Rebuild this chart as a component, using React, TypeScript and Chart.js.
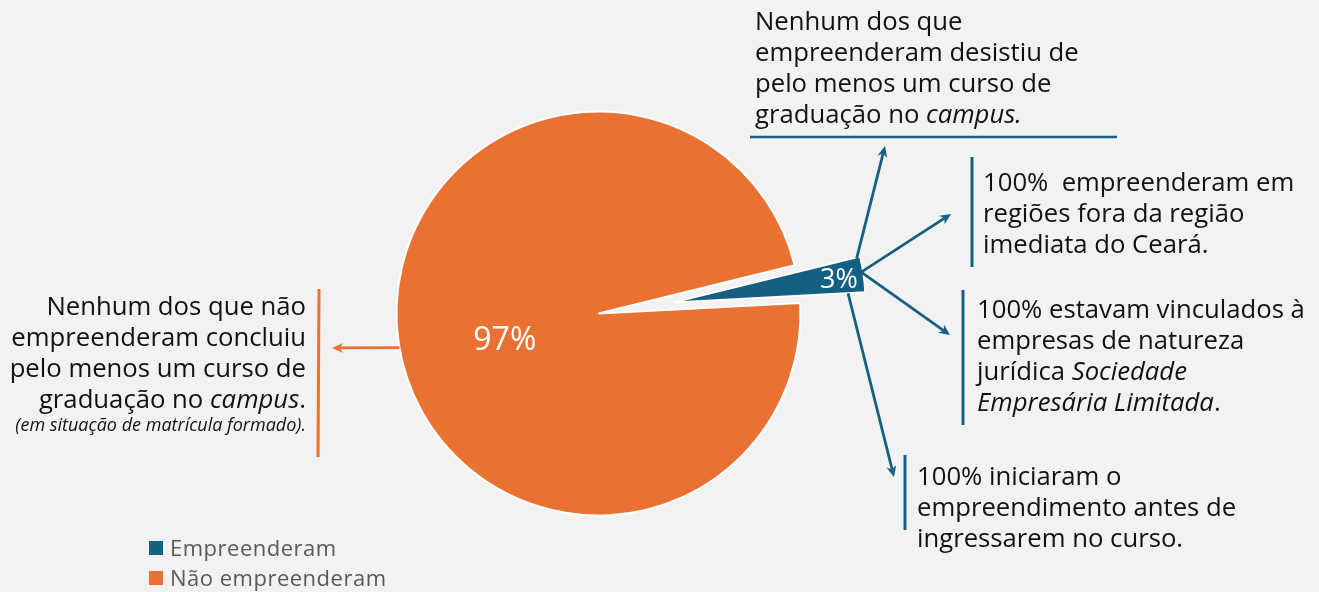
import React, { useEffect, useRef } from "react";
import { Chart, registerables } from "chart.js";

Chart.register(...registerables);

// ---------- data ----------
const categories = ["Empreenderam", "Não empreenderam"];
const values = [3, 97];
const valueLabels = ["3%", "97%"];
const colors = ["#156082", "#E97132"];

const topNote = ["Nenhum dos que", "empreenderam desistiu de", "pelo menos um curso de"];
const noteRegion = ["100%  empreenderam em", "regiões fora da região", "imediata do Ceará."];
const noteNature = ["100% estavam vinculados à", "empresas de natureza"];
const noteStart = ["100% iniciaram o", "empreendimento antes de", "ingressarem no curso."];
const leftNote = ["Nenhum dos que não", "empreenderam concluiu", "pelo menos um curso de"];

// ---------- styling constants ----------
const BG = "#f2f2f2";
const TEXT = "#111111";
const FONT = "'Open Sans', 'Noto Sans', sans-serif";
const EXPLODE = 76; // px the small slice is pulled out
const EXPLODED_SCALE = 0.95;

function drawArrow(ctx: CanvasRenderingContext2D, x1: number, y1: number, x2: number, y2: number, color: string) {
  const a = Math.atan2(y2 - y1, x2 - x1);
  const hl = 11;
  const hw = 5;
  ctx.save();
  ctx.strokeStyle = color;
  ctx.fillStyle = color;
  ctx.lineWidth = 2.8;
  ctx.lineCap = "butt";
  ctx.beginPath();
  ctx.moveTo(x1, y1);
  ctx.lineTo(x2 - Math.cos(a) * hl * 0.7, y2 - Math.sin(a) * hl * 0.7);
  ctx.stroke();
  ctx.beginPath();
  ctx.moveTo(x2, y2);
  ctx.lineTo(x2 - hl * Math.cos(a) + hw * Math.sin(a), y2 - hl * Math.sin(a) - hw * Math.cos(a));
  ctx.lineTo(x2 - hl * 0.7 * Math.cos(a), y2 - hl * 0.7 * Math.sin(a));
  ctx.lineTo(x2 - hl * Math.cos(a) - hw * Math.sin(a), y2 - hl * Math.sin(a) + hw * Math.cos(a));
  ctx.closePath();
  ctx.fill();
  ctx.restore();
}

function drawLine(ctx: CanvasRenderingContext2D, x1: number, y1: number, x2: number, y2: number, color: string, w: number) {
  ctx.save();
  ctx.strokeStyle = color;
  ctx.lineWidth = w;
  ctx.beginPath();
  ctx.moveTo(x1, y1);
  ctx.lineTo(x2, y2);
  ctx.stroke();
  ctx.restore();
}

const explodePlugin = {
  id: "explodeDraw",
  beforeDatasetDraw(chart: any, args: any) {
    const ctx = chart.ctx as CanvasRenderingContext2D;
    const meta = args.meta;
    meta.data.forEach((arc: any, i: number) => {
      const ex = i === 0 ? EXPLODE : 0;
      const mid = (arc.startAngle + arc.endAngle) / 2;
      ctx.save();
      ctx.translate(Math.cos(mid) * ex, Math.sin(mid) * ex);
      const r0 = arc.outerRadius;
      if (i === 0) arc.outerRadius = r0 * EXPLODED_SCALE;
      arc.draw(ctx);
      arc.outerRadius = r0;
      ctx.restore();
    });
    return false;
  },
  afterDatasetsDraw(chart: any) {
    const ctx = chart.ctx as CanvasRenderingContext2D;
    const meta = chart.getDatasetMeta(0);
    const blue: any = meta.data[0];
    const orange: any = meta.data[1];
    const bMid = (blue.startAngle + blue.endAngle) / 2;
    const ax = blue.x + Math.cos(bMid) * EXPLODE;
    const ay = blue.y + Math.sin(bMid) * EXPLODE;
    const bR = blue.outerRadius * EXPLODED_SCALE;
    const P = (t: number, rf: number) => {
      const a = blue.startAngle + t * (blue.endAngle - blue.startAngle);
      return [ax + Math.cos(a) * rf * bR, ay + Math.sin(a) * rf * bR];
    };

    // value labels
    ctx.save();
    ctx.fillStyle = "#ffffff";
    ctx.textAlign = "center";
    ctx.textBaseline = "alphabetic";
    const lp = P(0.5, 0.87);
    ctx.font = `27px ${FONT}`;
    ctx.fillText(valueLabels[0], lp[0], lp[1] + 27 * 0.36);
    const oa = (165 * Math.PI) / 180;
    const ox = orange.x + Math.cos(oa) * orange.outerRadius * 0.48;
    const oy = orange.y + Math.sin(oa) * orange.outerRadius * 0.48;
    ctx.font = `32px ${FONT}`;
    ctx.fillText(valueLabels[1], ox, oy + 32 * 0.36);
    ctx.restore();

    // annotation guides
    const blueC = colors[0];
    const orC = colors[1];
    drawLine(ctx, 750, 137, 1117, 137, blueC, 2.5);
    drawLine(ctx, 972, 157, 972, 267, blueC, 3);
    drawLine(ctx, 963, 290, 963, 425, blueC, 3);
    drawLine(ctx, 905, 455, 905, 530, blueC, 3);
    drawLine(ctx, 319, 289, 318, 457, orC, 3);

    // arrows from the exploded slice
    const s1 = P(0.03, 0.98);
    drawArrow(ctx, s1[0], s1[1], 885, 146, blueC);
    const s2 = P(0.43, 0.99);
    drawArrow(ctx, s2[0], s2[1], 951, 214, blueC);
    drawArrow(ctx, s2[0], s2[1], 950, 335, blueC);
    const s4 = P(1.0, 0.91);
    drawArrow(ctx, s4[0], s4[1], 894, 477, blueC);

    // arrow from the large slice
    const la = (170.3 * Math.PI) / 180;
    drawArrow(ctx, orange.x + Math.cos(la) * orange.outerRadius, orange.y + Math.sin(la) * orange.outerRadius, 332, 348, orC);
  },
};

const textBlock = (top: number, left: number, extra: React.CSSProperties = {}): React.CSSProperties => ({
  position: "absolute",
  top,
  left,
  fontFamily: FONT,
  fontSize: 25.7,
  lineHeight: "31px",
  color: TEXT,
  whiteSpace: "pre",
  ...extra,
});

export default function App() {
  const ref = useRef<HTMLCanvasElement | null>(null);

  useEffect(() => {
    if (!ref.current) return;
    const chart = new Chart(ref.current, {
      type: "pie",
      data: {
        labels: categories,
        datasets: [
          {
            data: values,
            backgroundColor: colors,
            borderColor: "#ffffff",
            borderWidth: 2,
          },
        ],
      },
      options: {
        animation: false,
        responsive: false,
        maintainAspectRatio: false,
        events: [],
        rotation: 76.2,
        radius: 202,
        layout: { padding: { left: 350, right: 472, top: 100, bottom: 65 } },
        plugins: {
          legend: { display: false },
          tooltip: { enabled: false },
        },
      } as any,
      plugins: [explodePlugin as any],
    });
    return () => chart.destroy();
  }, []);

  return (
    <div style={{ position: "absolute", left: 0, top: 0, width: 1319, height: 592, background: BG, overflow: "hidden" }}>
      <canvas ref={ref} width={1319} height={592} style={{ position: "absolute", left: 0, top: 0, display: "block" }} />

      <div style={textBlock(4.5, 755)}>
        {topNote.map((l) => (
          <div key={l}>{l}</div>
        ))}
        <div>
          graduação no <i>campus.</i>
        </div>
      </div>

      <div style={textBlock(165.5, 983)}>
        {noteRegion.map((l) => (
          <div key={l}>{l}</div>
        ))}
      </div>

      <div style={textBlock(292.5, 977)}>
        {noteNature.map((l) => (
          <div key={l}>{l}</div>
        ))}
        <div>
          jurídica <i>Sociedade</i>
        </div>
        <div>
          <i>Empresária Limitada</i>.
        </div>
      </div>

      <div style={textBlock(459.5, 917)}>
        {noteStart.map((l) => (
          <div key={l}>{l}</div>
        ))}
      </div>

      <div style={textBlock(289.5, 0, { width: 306, textAlign: "right" })}>
        {leftNote.map((l) => (
          <div key={l}>{l}</div>
        ))}
        <div>
          graduação no <i>campus</i>.
        </div>
        <div style={{ fontSize: 18, lineHeight: "20px", fontStyle: "italic" }}>(em situação de matrícula formado).</div>
      </div>

      <div
        style={{
          position: "absolute",
          left: 149,
          top: 531.5,
          fontFamily: FONT,
          fontSize: 22,
          letterSpacing: 0.5,
          lineHeight: "30px",
          color: "#595959",
        }}
      >
        {categories.map((c, i) => (
          <div key={c} style={{ display: "flex", alignItems: "center" }}>
            <span style={{ display: "inline-block", width: 14, height: 14, background: colors[i], marginRight: 7, marginTop: 2 }} />
            <span>{c}</span>
          </div>
        ))}
      </div>
    </div>
  );
}
